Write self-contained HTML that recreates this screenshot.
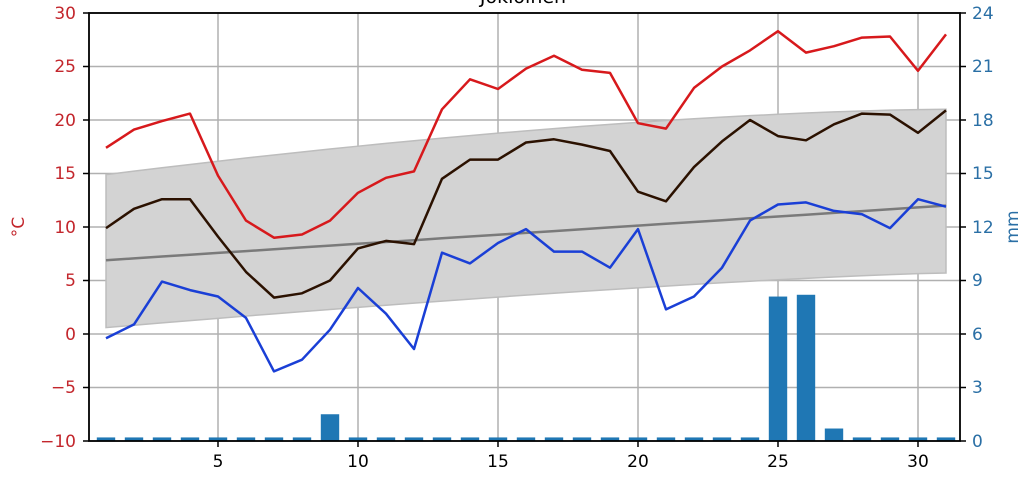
<!DOCTYPE html>
<html><head><meta charset="utf-8"><style>
html,body{margin:0;padding:0;background:#fff;}
svg{display:block;font-family:"DejaVu Sans","Liberation Sans",sans-serif;}
</style></head><body>
<svg id="s" width="1034" height="484" viewBox="0 0 1034 484" xmlns="http://www.w3.org/2000/svg">
<text x="523" y="3" font-size="19" text-anchor="middle" fill="#000">Jokioinen</text>
<g id="grid" stroke="#b0b0b0" stroke-width="1.5"></g>
<path id="band" fill="#d3d3d3" stroke="#bdbdbd" stroke-width="1.5"/>
<path id="avg" fill="none" stroke="#7a7a7a" stroke-width="2.5"/>
<g id="bars" fill="#1f77b4"></g>
<path id="tmax" fill="none" stroke="#d7191c" stroke-width="2.5" stroke-linejoin="round"/>
<path id="tmean" fill="none" stroke="#2b1100" stroke-width="2.5" stroke-linejoin="round"/>
<path id="tmin" fill="none" stroke="#1a3fd6" stroke-width="2.5" stroke-linejoin="round"/>
<rect x="89" y="13" width="871" height="428" fill="none" stroke="#000" stroke-width="1.8"/>
<g id="ticks" stroke="#000" stroke-width="1.5"></g>
<g font-size="17" fill="#c3262c" text-anchor="end">
<text x="76" y="19">30</text><text x="76" y="72">25</text><text x="76" y="126">20</text><text x="76" y="179">15</text><text x="76" y="233">10</text><text x="76" y="286">5</text><text x="76" y="340">0</text><text x="76" y="393">−5</text><text x="76" y="447">−10</text>
</g>
<g font-size="17" fill="#2a6fa5" text-anchor="start">
<text x="972" y="19">24</text><text x="972" y="72">21</text><text x="972" y="126">18</text><text x="972" y="179">15</text><text x="972" y="233">12</text><text x="972" y="286">9</text><text x="972" y="340">6</text><text x="972" y="393">3</text><text x="972" y="447">0</text>
</g>
<g font-size="17" fill="#000" text-anchor="middle">
<text x="218" y="467">5</text><text x="358" y="467">10</text><text x="498" y="467">15</text><text x="638" y="467">20</text><text x="778" y="467">25</text><text x="918" y="467">30</text>
</g>
<text x="24" y="227" font-size="17" fill="#c3262c" text-anchor="middle" transform="rotate(-90 24 227)">°C</text>
<text x="1018" y="227" font-size="17" fill="#2a6fa5" text-anchor="middle" transform="rotate(-90 1018 227)">mm</text>
</svg>
<script>
var X=function(d){return 778+(d-25)*28;},Y=function(t){return 13+(30-t)*10.7;},M=function(m){return 441-m*17.833;};
var tmax=[17.4,19.1,19.9,20.6,14.8,10.6,9.0,9.3,10.6,13.2,14.6,15.2,21.0,23.8,22.9,24.8,26.0,24.7,24.4,19.7,19.2,23.0,25.0,26.5,28.3,26.3,26.9,27.7,27.8,24.6,28.0];
var tmean=[9.9,11.7,12.6,12.6,9.1,5.8,3.4,3.8,5.0,8.0,8.7,8.4,14.5,16.3,16.3,17.9,18.2,17.7,17.1,13.3,12.4,15.6,18.0,20.0,18.5,18.1,19.6,20.6,20.5,18.8,20.9];
var tmin=[-0.4,0.9,4.9,4.1,3.5,1.5,-3.5,-2.4,0.4,4.3,1.9,-1.4,7.6,6.6,8.5,9.8,7.7,7.7,6.2,9.8,2.3,3.5,6.2,10.6,12.1,12.3,11.5,11.2,9.9,12.6,11.9];
var rain=[];for(var i=0;i<31;i++)rain.push(0.2);rain[8]=1.5;rain[24]=8.1;rain[25]=8.2;rain[26]=0.7;
function line(a){return a.map(function(v,i){return (i?'L':'M')+X(i+1).toFixed(1)+','+Y(v).toFixed(1);}).join('');}
document.getElementById('tmax').setAttribute('d',line(tmax));
document.getElementById('tmean').setAttribute('d',line(tmean));
document.getElementById('tmin').setAttribute('d',line(tmin));
var up=[],lo=[],av=[];
for(var d=1;d<=31;d++){var f=(d-1)/30;
up.push(14.9+6.1*(1-Math.pow(1-f,1.6)));
lo.push(0.6+5.1*(1-Math.pow(1-f,1.3)));
av.push(6.9+5.1*f);}
var p=up.map(function(v,i){return (i?'L':'M')+X(i+1)+','+Y(v);}).join('');
for(var i=30;i>=0;i--)p+='L'+X(i+1)+','+Y(lo[i]);
document.getElementById('band').setAttribute('d',p+'Z');
document.getElementById('avg').setAttribute('d',line(av));
var ns='http://www.w3.org/2000/svg',g=document.getElementById('bars');
rain.forEach(function(m,i){var r=document.createElementNS(ns,'rect');r.setAttribute('x',X(i+1)-9.2);r.setAttribute('width',18.4);r.setAttribute('y',M(m));r.setAttribute('height',441-M(m));g.appendChild(r);});
var gr=document.getElementById('grid'),tk=document.getElementById('ticks');
function ln(par,x1,y1,x2,y2){var l=document.createElementNS(ns,'line');l.setAttribute('x1',x1);l.setAttribute('y1',y1);l.setAttribute('x2',x2);l.setAttribute('y2',y2);par.appendChild(l);}
[5,10,15,20,25,30].forEach(function(d){ln(gr,X(d),13,X(d),441);ln(tk,X(d),441,X(d),447);});
for(var t=-10;t<=30;t+=5){var y=Y(t);ln(gr,89,y,960,y);ln(tk,83,y,89,y);ln(tk,960,y,966,y);}
</script>
</body></html>
